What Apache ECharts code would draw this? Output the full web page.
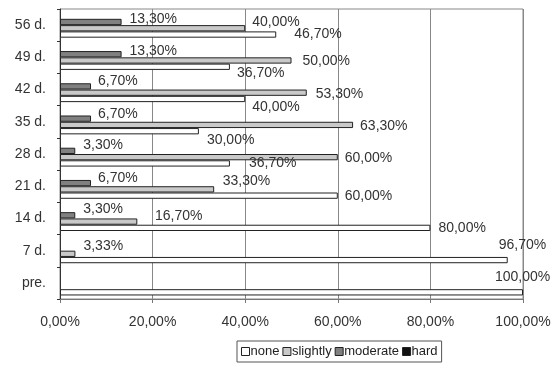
<!DOCTYPE html>
<html>
<head>
<meta charset="utf-8">
<script src="https://cdn.jsdelivr.net/npm/echarts@6/dist/echarts.min.js"></script>
<style>
  html, body { margin: 0; padding: 0; background: #fff; }
  #chart { width: 560px; height: 371px; }
</style>
</head>
<body>
<div id="chart"></div>
<script>
// Categories listed from the bottom of the axis upwards
const categories = ['pre.', '7 d.', '14 d.', '21 d.', '28 d.', '35 d.', '42 d.', '49 d.', '56 d.'];

// Share of cases (%) per grade
const noneValues     = [100, 96.7, 80, 60, 36.7, 30, 40, 36.7, 46.7];
const slightlyValues = [0, 3.33, 16.7, 33.3, 60, 63.3, 53.3, 50, 40];
const moderateValues = [0, 0, 3.3, 6.7, 3.3, 6.7, 6.7, 13.3, 13.3];
const hardValues     = [0, 0, 0, 0, 0, 0, 0, 0, 0];

const seriesNames = ['none', 'slightly', 'moderate', 'hard'];
const xTicks = [0, 20, 40, 60, 80, 100];

// Label nudges [dx, dy] in px, so labels sit clear of neighbouring bars
const labelNudge = {
  none:     [[-28,-15],[-9,-14.6],[8,0],[7,0],[19,0],[8,8.5],[7,8],[7,6.4],[18,0]],
  slightly: [[7,0],[8,-7.6],[17.7,-5],[8.5,-8],[7,1],[7,1],[9,1.4],[11,1],[7,-6.6]],
  moderate: [[7,0],[7,0],[8,-6.4],[7,-5],[8,-6],[7,-4],[7,-5],[8,-3],[8,-2.6]],
  hard:     categories.map(() => [7, 0])
};

const fills = { none: '#ffffff', slightly: '#c9c9c9', moderate: '#808080', hard: '#111111' };
const FONT = '"Liberation Sans", Arial, sans-serif';

const pct = v => v.toFixed(2).replace('.', ',') + '%';

function buildSeries(name, values) {
  return {
    name: name,
    type: 'bar',
    barGap: '0%',
    barCategoryGap: '22%',
    itemStyle: { color: fills[name], borderColor: '#222', borderWidth: 1 },
    emphasis: { disabled: true },
    data: values.map((v, i) => ({
      value: v,
      itemStyle: v > 0 ? undefined : { borderWidth: 0 },
      label: {
        show: v > 0,
        position: 'right',
        distance: 0,
        offset: labelNudge[name][i],
        formatter: () => pct(v),
        color: '#333',
        fontFamily: FONT,
        fontSize: 14
      }
    }))
  };
}

const chart = echarts.init(document.getElementById('chart'), null, { renderer: 'canvas' });
chart.setOption({
  animation: false,
  backgroundColor: '#fff',
  grid: {
    left: 60, right: 37, top: 9, bottom: 72,
    show: true, borderColor: '#888', borderWidth: 1, backgroundColor: 'transparent'
  },
  legend: {
    data: seriesNames,
    left: 237, top: 341,
    orient: 'horizontal',
    itemWidth: 8, itemHeight: 8, itemGap: 3,
    icon: 'rect',
    padding: [4, 4],
    borderColor: '#555', borderWidth: 1,
    selectedMode: false,
    itemStyle: { borderColor: '#222', borderWidth: 1 },
    textStyle: { fontFamily: FONT, fontSize: 13, color: '#222', padding: [0, 0, 0, -4] }
  },
  xAxis: {
    type: 'value',
    min: 0, max: 100, interval: 20,
    axisLine: { show: true, lineStyle: { color: '#777' } },
    axisTick: { show: true, length: 4, lineStyle: { color: '#777' } },
    splitLine: { show: true, lineStyle: { color: '#888', width: 1 } },
    axisLabel: {
      margin: 16, color: '#333', fontFamily: FONT, fontSize: 14,
      formatter: v => xTicks.includes(v) ? pct(v) : ''
    }
  },
  yAxis: {
    type: 'category',
    data: categories,
    axisLine: { show: true, lineStyle: { color: '#333' } },
    axisTick: { show: true, length: 3, alignWithLabel: false, lineStyle: { color: '#333' } },
    axisLabel: { margin: 14, color: '#333', fontFamily: FONT, fontSize: 14 }
  },
  // Within each category the first series sits on top, so list them top-down
  series: [
    buildSeries('hard', hardValues),
    buildSeries('moderate', moderateValues),
    buildSeries('slightly', slightlyValues),
    buildSeries('none', noneValues)
  ]
});
</script>
</body>
</html>
